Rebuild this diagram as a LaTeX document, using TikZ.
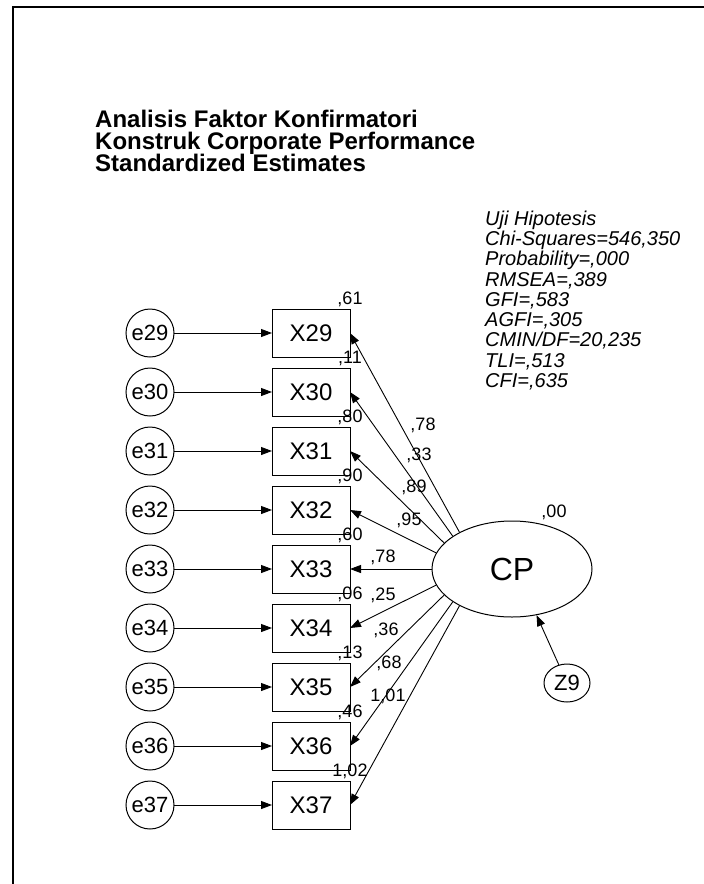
\documentclass[tikz,border=0pt]{standalone}
\usepackage{fontspec}
\setmainfont{Liberation Sans}
\usetikzlibrary{arrows.meta,positioning,shapes.geometric}
\newcommand{\amosfont}[2]{\fontsize{#1}{#2}\selectfont}
\newcommand{\tightlines}{\lineskiplimit=-50pt\relax\lineskip=0pt\relax}

\begin{document}
\begin{tikzpicture}[
  x=1pt, y=-1pt,
  node distance=11pt and 98pt,
  box/.style={draw, line width=1pt, minimum width=78pt, minimum height=48pt, inner sep=0pt, outer sep=0pt, font=\amosfont{24}{28}},
  err/.style={draw, circle, line width=1pt, minimum size=48pt, inner sep=0pt, outer sep=0pt, font=\amosfont{22}{26}},
  arrow/.style={-{Triangle[length=11pt, width=8pt]}, line width=0.9pt},
  est/.style={inner sep=0pt, font=\amosfont{18}{20}}
]
\useasboundingbox (0,0) rectangle (704,884);
\draw[line width=2pt] (13,884) -- (13,7) -- (704,7);

% title and fit
\node[anchor=north west, align=left, inner sep=0pt, font=\amosfont{24}{22}\bfseries\tightlines] (title) at (95,109.5)
  {Analisis Faktor Konfirmatori\\Konstruk Corporate Performance\\Standardized Estimates};
\node[anchor=north west, align=left, inner sep=0pt, font=\amosfont{20}{20.3}\itshape\tightlines] (fit) at (485,210.5)
  {Uji Hipotesis\\Chi-Squares=546,350\\Probability=,000\\RMSEA=,389\\GFI=,583\\AGFI=,305\\CMIN/DF=20,235\\TLI=,513\\CFI=,635};

% indicators
\node[box] (x29) at (311,333) {X29};
\node[box, below=of x29] (x30) {X30};
\node[box, below=of x30] (x31) {X31};
\node[box, below=of x31] (x32) {X32};
\node[box, below=of x32] (x33) {X33};
\node[box, below=of x33] (x34) {X34};
\node[box, below=of x34] (x35) {X35};
\node[box, below=of x35] (x36) {X36};
\node[box, below=of x36] (x37) {X37};

% errors
\node[err, left=of x29] (e29) {e29};
\node[err, left=of x30] (e30) {e30};
\node[err, left=of x31] (e31) {e31};
\node[err, left=of x32] (e32) {e32};
\node[err, left=of x33] (e33) {e33};
\node[err, left=of x34] (e34) {e34};
\node[err, left=of x35] (e35) {e35};
\node[err, left=of x36] (e36) {e36};
\node[err, left=of x37] (e37) {e37};

% latent
\node[draw, ellipse, line width=1pt, minimum width=160pt, minimum height=96pt, inner sep=0pt, font=\amosfont{32}{36}] (cp) at (512,569) {CP};
\node[draw, ellipse, line width=1pt, minimum width=46pt, minimum height=38pt, inner sep=0pt, font=\amosfont{22}{26}] (z9) at (567,683) {Z9};
\node[est] (rcp) at (554,512) {,00};

% squared multiple correlations
\node[est, above=2pt of x29.north east] (r29) {,61};
\node[est, above=2pt of x30.north east] (r30) {,11};
\node[est, above=2pt of x31.north east] (r31) {,80};
\node[est, above=2pt of x32.north east] (r32) {,90};
\node[est, above=2pt of x33.north east] (r33) {,60};
\node[est, above=2pt of x34.north east] (r34) {,06};
\node[est, above=2pt of x35.north east] (r35) {,13};
\node[est, above=2pt of x36.north east] (r36) {,46};
\node[est, above=2pt of x37.north east] (r37) {1,02};

% loadings
\node[est] (l29) at (423,425) {,78};
\node[est] (l30) at (419,455) {,33};
\node[est] (l31) at (414,487) {,89};
\node[est] (l32) at (409,520) {,95};
\node[est] (l33) at (383,557) {,78};
\node[est] (l34) at (383,595) {,25};
\node[est] (l35) at (386,630) {,36};
\node[est] (l36) at (389,663) {,68};
\node[est] (l37) at (388,696) {1,01};

\draw[arrow] (e29) -- (x29);
\draw[arrow] (e30) -- (x30);
\draw[arrow] (e31) -- (x31);
\draw[arrow] (e32) -- (x32);
\draw[arrow] (e33) -- (x33);
\draw[arrow] (e34) -- (x34);
\draw[arrow] (e35) -- (x35);
\draw[arrow] (e36) -- (x36);
\draw[arrow] (e37) -- (x37);

\draw[arrow] (cp.145) -- (x29.east);
\draw[arrow] (cp.151) -- (x30.east);
\draw[arrow] (cp.159) -- (x31.east);
\draw[arrow] (cp.168) -- (x32.east);
\draw[arrow] (cp.180) -- (x33.east);
\draw[arrow] (cp.192) -- (x34.east);
\draw[arrow] (cp.201) -- (x35.east);
\draw[arrow] (cp.209) -- (x36.east);
\draw[arrow] (cp.215) -- (x37.east);
\draw[arrow] (z9) -- (cp.298);
\end{tikzpicture}
\end{document}
